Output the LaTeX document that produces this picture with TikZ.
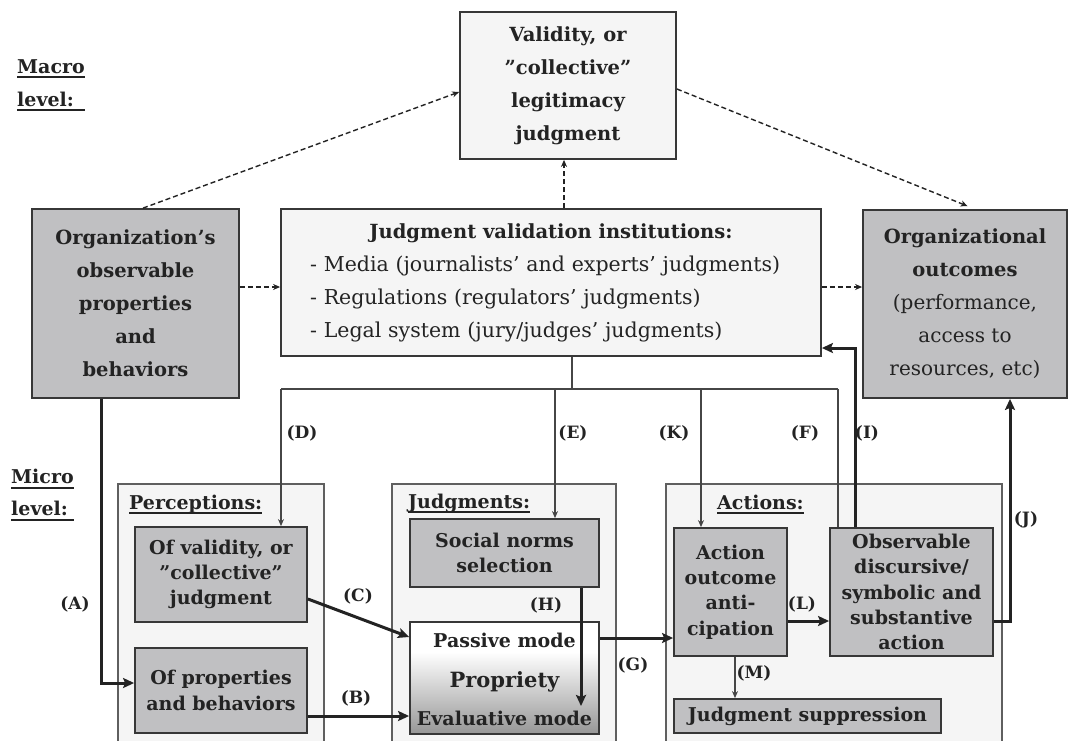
\documentclass[tikz,border=0pt]{standalone}
\usepackage{fontspec}
\setmainfont{DejaVu Serif}
\usetikzlibrary{arrows.meta,calc}
\definecolor{boxgray}{RGB}{192,192,194}
\definecolor{boxlight}{RGB}{245,245,245}
\definecolor{linegray}{RGB}{55,55,55}
\definecolor{outergray}{RGB}{95,95,95}
\definecolor{treegray}{RGB}{70,70,70}
\definecolor{propgray}{RGB}{150,150,150}
\definecolor{ink}{RGB}{35,35,35}
\tikzset{
  bigtext/.style={font=\bfseries\fontsize{19.5}{33}\selectfont},
  smalltext/.style={font=\bfseries\fontsize{19}{25.3}\selectfont},
  darkbox/.style={draw=linegray, line width=1.8pt, fill=boxgray, inner sep=0pt, align=center, text=ink},
  lightbox/.style={draw=linegray, line width=1.8pt, fill=boxlight, inner sep=0pt, align=center, text=ink},
  outerline/.style={draw=outergray, line width=1.6pt},
  head/.style={font=\bfseries\fontsize{19}{22}\selectfont, inner sep=0pt, text=ink},
  uline/.style={draw=ink, line width=2.6pt},
  ulinethin/.style={draw=ink, line width=1.4pt},
  lab/.style={font=\bfseries\fontsize{17}{17}\selectfont, inner sep=0pt, text=ink},
  treeline/.style={draw=treegray, line width=1.3pt},
  treearrow/.style={treeline, -{Stealth[length=7pt,width=6pt]}},
  thickarrow/.style={draw=ink, line width=3pt, -{Stealth[length=11pt,width=10pt,inset=2pt]}},
  dasharrow/.style={draw=ink, line width=1.4pt, dash pattern=on 5pt off 3pt, -{Stealth[length=7pt,width=6pt]}},
  thinarrow/.style={draw=treegray, line width=1.3pt, -{Stealth[length=7pt,width=6pt]}},
}
\begin{document}
\begin{tikzpicture}[x=1pt,y=-1pt]
\useasboundingbox (0,0) rectangle (1069,740);
\fill[white] (0,0) rectangle (1069,740);

% group boxes (open at the bottom)
\fill[boxlight] (118,484) rectangle (324,741);
\draw[outerline] (118,741) -- (118,484) -- (324,484) -- (324,741);
\fill[boxlight] (392,484) rectangle (616,741);
\draw[outerline] (392,741) -- (392,484) -- (616,484) -- (616,741);
\fill[boxlight] (666,484) rectangle (1002,741);
\draw[outerline] (666,741) -- (666,484) -- (1002,484) -- (1002,741);

% level headings
\node[head, anchor=base west] (macro) at (17,73) {Macro};
\node[head, anchor=base west] (macrolevel) at (17,106) {level:};
\draw[uline] ($(macro.base west)+(0,4)$) -- ($(macro.base east)+(0,4)$);
\draw[uline] ($(macrolevel.base west)+(0,4)$) -- ($(macro.base east |- macrolevel.base)+(0,4)$);
\node[head, anchor=base west] (micro) at (11,483) {Micro};
\node[head, anchor=base west] (microlevel) at (11,515) {level:};
\draw[uline] ($(micro.base west)+(0,5)$) -- ($(micro.base east)+(0,5)$);
\draw[uline] ($(microlevel.base west)+(0,5)$) -- ($(micro.base east |- microlevel.base)+(0,5)$);

\node[head, anchor=base west] (perch) at (129,509) {Perceptions:};
\draw[ulinethin] ($(perch.base west)+(0,4)$) -- ($(perch.base east)+(0,4)$);
\node[head, anchor=base west] (judgh) at (408,508) {Judgments:};
\draw[ulinethin] ($(judgh.base west)+(0,4)$) -- ($(judgh.base east)+(0,4)$);
\node[head, anchor=base west] (acth) at (717,509) {Actions:};
\draw[ulinethin] ($(acth.base west)+(0,4)$) -- ($(acth.base east)+(0,4)$);

% macro boxes
\node[lightbox, bigtext, minimum width=216pt, minimum height=147pt] (valid) at (568,85.5)
  {Validity, or\\”collective”\\legitimacy\\judgment};
\node[darkbox, bigtext, minimum width=207pt, minimum height=189pt] (org) at (135.5,303.5)
  {Organization’s\\observable\\properties\\and\\behaviors};
\node[lightbox, minimum width=540pt, minimum height=147pt, text width=482pt, inner xsep=29pt, inner ysep=0pt,
  align=left, font=\fontsize{20.5}{33}\selectfont] (jv) at (551,282.5)
  {\centering{\fontsize{19.5}{33}\selectfont\bfseries Judgment validation institutions:}\par\raggedright
   - Media (journalists’ and experts’ judgments)\\
   - Regulations (regulators’ judgments)\\
   - Legal system (jury/judges’ judgments)};
\node[darkbox, font=\fontsize{20}{33}\selectfont, minimum width=204pt, minimum height=188pt] (out) at (965,304)
  {{\fontsize{19.5}{33}\selectfont\bfseries Organizational}\\{\fontsize{19.5}{33}\selectfont\bfseries outcomes}\\(performance,\\access to\\resources, etc)};

% micro boxes
\node[darkbox, smalltext, minimum width=172pt, minimum height=95pt] (ofval) at (221,574.5)
  {Of validity, or\\”collective”\\judgment};
\node[darkbox, smalltext, minimum width=172pt, minimum height=85pt] (ofprop) at (221,690.5)
  {Of properties\\and behaviors};
\node[darkbox, smalltext, minimum width=189pt, minimum height=68pt] (social) at (504.5,553)
  {Social norms\\selection};
\fill[white] (410,622) rectangle (599,652);
\shade[top color=white, bottom color=propgray] (410,652) rectangle (599,734);
\node[draw=linegray, line width=1.8pt, inner sep=0pt, minimum width=189pt, minimum height=112pt] (prop) at (504.5,678) {};
\node[head] (passive) at (504.5,640) {Passive mode};
\node[head, font=\bfseries\fontsize{21}{22}\selectfont] (propriety) at (504.5,682) {Propriety};
\node[head] (evaluative) at (504.5,718) {Evaluative mode};
\node[darkbox, smalltext, minimum width=113pt, minimum height=128pt] (action) at (730.5,592)
  {Action\\outcome\\anti-\\cipation};
\node[darkbox, smalltext, minimum width=163pt, minimum height=128pt] (obs) at (911.5,592)
  {Observable\\discursive/\\symbolic and\\substantive\\action};
\node[darkbox, smalltext, minimum width=267pt, minimum height=34pt] (supp) at (807.5,716)
  {Judgment suppression};

% dashed macro links
\draw[dasharrow] (org.north -| 143,0) -- (valid.west |- 0,92);
\draw[dasharrow, shorten >=8pt] (valid.east |- 0,89) -- (out.north -| 975,0);
\draw[dasharrow] (jv.north -| 564,0) -- (valid.south -| 564,0);
\draw[dasharrow] (org.east |- 0,287) -- (jv.west |- 0,287);
\draw[dasharrow] (jv.east |- 0,287) -- (out.west |- 0,287);

% tree from the institutions
\coordinate (tJ) at (572,389);
\coordinate (tD) at (281,389);
\coordinate (tE) at (555,389);
\coordinate (tK) at (701,389);
\coordinate (tF) at (838,389);
\draw[treeline] (jv.south -| tJ) -- (tJ);
\draw[treeline] (tD) -- (tF);
\draw[treearrow] (tD) -- (tD |- ofval.north);
\draw[treearrow] (tE) -- (tE |- social.north);
\draw[treearrow] (tK) -- (tK |- action.north);
\draw[treeline] (tF) -- (tF |- obs.north);

% thick links
\coordinate (hEnd) at (581,706);
\draw[thickarrow] (org.south -| 101,0) |- (ofprop.west |- 0,683);
\draw[thickarrow] (ofprop.east |- 0,716) -- (prop.west |- 0,716);
\draw[thickarrow] (ofval.east |- 0,599) -- (prop.west |- 0,637);
\draw[thickarrow] (social.south -| hEnd) -- (hEnd);
\draw[thickarrow] (prop.east |- 0,638) -- (action.west |- 0,638);
\draw[thickarrow] (action.east |- 0,621) -- (obs.west |- 0,621);
\draw[thinarrow] (action.south -| 735,0) -- (supp.north -| 735,0);
\draw[thickarrow] (obs.north -| 855,0) |- (jv.east |- 0,348);
\draw[thickarrow] (obs.east |- 0,621) -| (out.south -| 1010,0);

% labels
\node[lab] (lA) at (75,604) {(A)};
\node[lab] (lB) at (356,698) {(B)};
\node[lab] (lC) at (358,596) {(C)};
\node[lab] (lD) at (302,433) {(D)};
\node[lab] (lE) at (573,433) {(E)};
\node[lab] (lK) at (674,433) {(K)};
\node[lab] (lF) at (805,433) {(F)};
\node[lab] (lI) at (867,433) {(I)};
\node[lab] (lH) at (546,605) {(H)};
\node[lab] (lG) at (633,665) {(G)};
\node[lab] (lL) at (802,604) {(L)};
\node[lab] (lM) at (754,673) {(M)};
\node[lab] (lJ) at (1026,520) {(J)};
\end{tikzpicture}
\end{document}
